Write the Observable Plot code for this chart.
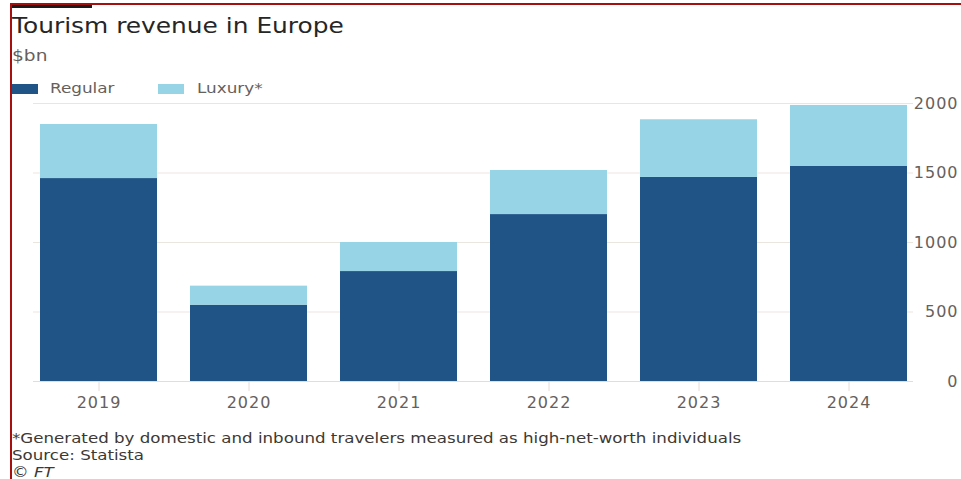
<!DOCTYPE html>
<html><head><meta charset="utf-8">
<script src="https://cdn.jsdelivr.net/npm/d3@7"></script>
<script src="https://cdn.jsdelivr.net/npm/@observablehq/plot@0.6"></script>
<style>
html,body{margin:0;padding:0;background:#fff}
body{width:961px;height:479px;overflow:hidden;position:relative;font-family:"DejaVu Sans",sans-serif}
#frame{position:absolute;left:10px;top:3px;width:960px;height:480px;border-left:2px solid #a50f0f;border-top:2px solid #a50f0f;box-sizing:border-box}
#topbar{position:absolute;left:12px;top:5px;width:80px;height:3px;background:#1b1b1b}
#title{position:absolute;left:12px;top:13px;font-size:22px;color:#262626;white-space:nowrap;transform:scaleX(1.13);transform-origin:left center}
#sub{position:absolute;left:12px;top:47px;font-size:15.5px;color:#66605c;transform:scaleX(1.2);transform-origin:left center}
.leg{position:absolute;top:80px;font-size:14.5px;color:#66605c;white-space:nowrap;transform:scaleX(1.16);transform-origin:left center}
.sw{position:absolute;top:84px;width:26px;height:10px}
#chart{position:absolute;left:0;top:95px}
#foot{position:absolute;left:12px;top:430px;font-size:14px;line-height:17px;color:#3d3935;white-space:nowrap;transform:scaleX(1.19);transform-origin:left top}
</style></head>
<body>
<div id="frame"></div>
<div id="topbar"></div>
<div id="title">Tourism revenue in Europe</div>
<div id="sub">$bn</div>
<div class="sw" id="sw1" style="left:12px"></div>
<div class="leg" style="left:50px">Regular</div>
<div class="sw" id="sw2" style="left:158px"></div>
<div class="leg" style="left:197px">Luxury*</div>
<div id="chart"></div>
<div id="foot">*Generated by domestic and inbound travelers measured as high-net-worth individuals<br>Source: Statista<br><i>© FT</i></div>
<script>
const years = ["2019", "2020", "2021", "2022", "2023", "2024"];
const regular = [1460, 549, 791, 1201, 1468, 1549];
const luxury = [389, 137, 209, 317, 415, 437];
const seriesNames = ["Regular", "Luxury*"];
const seriesColors = ["#205487", "#96d4e6"];
const yTicks = [0, 500, 1000, 1500, 2000];

document.getElementById("sw1").style.background = seriesColors[0];
document.getElementById("sw2").style.background = seriesColors[1];

const data = [];
years.forEach((y, i) => data.push({year: y, series: seriesNames[0], value: regular[i]}));
years.forEach((y, i) => data.push({year: y, series: seriesNames[1], value: luxury[i]}));

const chart = Plot.plot({
  width: 961,
  height: 326,
  marginTop: 8,
  marginBottom: 40,
  marginLeft: 33,
  marginRight: 48,
  style: {fontFamily: "DejaVu Sans, sans-serif", fontSize: "16px", color: "#66605c", background: "transparent", letterSpacing: "1px"},
  x: {domain: years, paddingInner: 0.22, paddingOuter: 0.035, label: null},
  y: {domain: [0, 2000], label: null},
  color: {domain: seriesNames, range: seriesColors},
  marks: [
    Plot.gridY(yTicks.slice(1), {stroke: "#ebe5df", strokeOpacity: 1}),
    Plot.ruleY([0], {stroke: "#e2ddd8"}),
    Plot.barY(data, {x: "year", y: "value", fill: "series"}),
    Plot.axisX({tickSize: 10, tickPadding: 5, stroke: "#e2ddd8", fill: "#66605c", fontSize: 16}),
    Plot.axisY(yTicks, {anchor: "right", tickSize: 0, tickPadding: 0, textAnchor: "end", dx: 45, fill: "#66605c", fontSize: 16, tickFormat: d => String(d)})
  ]
});
document.getElementById("chart").appendChild(chart);
</script>
</body></html>
